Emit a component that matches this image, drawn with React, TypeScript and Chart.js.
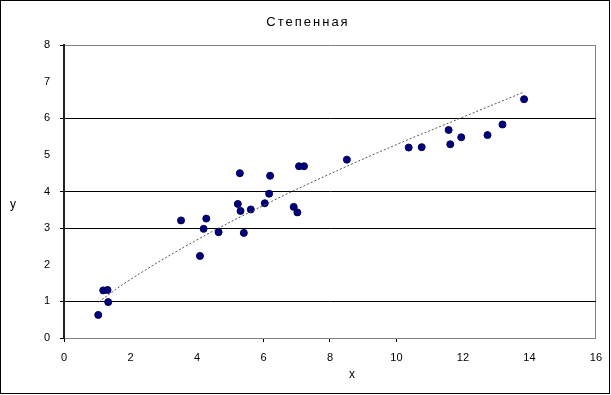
import React, { useEffect, useRef } from "react";
import { Chart, registerables } from "chart.js";

Chart.register(...registerables);

const TITLE = "Степенная";
const X_LABEL = "x";
const Y_LABEL = "y";

const xValues = [1.03, 1.18, 1.31, 1.33, 3.52, 4.09, 4.2, 4.28, 4.65, 5.23, 5.29, 5.31, 5.41, 5.62, 6.04, 6.17, 6.2, 6.91, 7.02, 7.07, 7.22, 8.51, 10.37, 10.76, 11.57, 11.62, 11.95, 12.74, 13.19, 13.84];
const yValues = [0.63, 1.3, 1.31, 0.98, 3.21, 2.24, 2.98, 3.26, 2.89, 3.66, 4.5, 3.47, 2.87, 3.51, 3.68, 3.94, 4.43, 3.58, 3.43, 4.69, 4.69, 4.87, 5.2, 5.21, 5.68, 5.29, 5.48, 5.54, 5.83, 6.52];

const trendX = [1.04, 2, 4, 6, 8, 10, 12, 13.82];
const trendY = [0.98, 1.6, 2.68, 3.62, 4.48, 5.28, 6.03, 6.71];

const yGridValues = [1, 3, 4, 6];
const yTickMarkValues = [0, 1, 3, 4, 6, 8];
const xTickMarkValues = [0, 6, 8, 10];

const FONT = "'Liberation Sans', Arial, sans-serif";

export default function App() {
  const ref = useRef<HTMLCanvasElement | null>(null);

  useEffect(() => {
    document.body.style.margin = "0";
    const canvas = ref.current;
    if (!canvas) return;

    const decor = {
      id: "decor",
      beforeDraw(chart: any) {
        const ctx = chart.ctx;
        ctx.save();
        ctx.fillStyle = "#ffffff";
        ctx.fillRect(0, 0, chart.width, chart.height);
        ctx.restore();
      },
      afterDraw(chart: any) {
        const ctx = chart.ctx;
        ctx.save();
        ctx.strokeStyle = "#000000";
        ctx.lineWidth = 1;
        ctx.strokeRect(0.5, 0.5, 609, 393);
        ctx.fillStyle = "#000000";
        ctx.textAlign = "center";
        ctx.textBaseline = "middle";
        ctx.font = `13px ${FONT}`;
        try { (ctx as any).letterSpacing = "2px"; } catch (e) {}
        ctx.fillText(TITLE, 308, 22);
        try { (ctx as any).letterSpacing = "0px"; } catch (e) {}
        ctx.font = `12px ${FONT}`;
        ctx.fillText(X_LABEL, 352, 375);
        ctx.fillText(Y_LABEL, 13, 205);
        ctx.restore();
      },
    };

    const chart = new Chart(canvas, {
      type: "scatter",
      data: {
        datasets: [
          {
            type: "line",
            data: trendX.map((x, i) => ({ x, y: trendY[i] })),
            borderColor: "#555555",
            borderWidth: 1,
            borderDash: [2, 2],
            pointRadius: 0,
            fill: false,
            tension: 0.4,
            showLine: true,
            order: 0,
          } as any,
          {
            data: xValues.map((x, i) => ({ x, y: yValues[i] })),
            backgroundColor: "#000080",
            borderColor: "#000050",
            borderWidth: 1,
            pointRadius: 3.5,
            order: 1,
          },
        ],
      },
      options: {
        responsive: false,
        animation: false,
        devicePixelRatio: 1,
        layout: { padding: { top: 45, right: 14, left: 0, bottom: 0 } },
        plugins: {
          legend: { display: false },
          title: { display: false },
          tooltip: { enabled: false },
        },
        scales: {
          x: {
            type: "linear",
            min: 0,
            max: 16,
            afterFit(s: any) { s.height = 57; },
            ticks: {
              stepSize: 2,
              color: "#000000",
              font: { family: FONT, size: 11 },
              padding: 9,
            },
            grid: {
              drawOnChartArea: true,
              tickLength: 4,
              color: (c: any) => (c.tick && c.tick.value === 16 ? "#808080" : "rgba(0,0,0,0)"),
              tickColor: (c: any) => (c.tick && xTickMarkValues.includes(c.tick.value) ? "#000000" : "rgba(0,0,0,0)"),
            },
            border: { color: "#808080", width: 1 },
          },
          y: {
            type: "linear",
            min: 0,
            max: 8,
            afterFit(s: any) { s.width = 64; },
            ticks: {
              stepSize: 1,
              color: "#000000",
              font: { family: FONT, size: 11 },
              padding: 10,
            },
            grid: {
              tickLength: 4,
              color: (c: any) => {
                const v = c.tick ? c.tick.value : -1;
                if (yGridValues.includes(v)) return "#000000";
                if (v === 8) return "#808080";
                return "rgba(0,0,0,0)";
              },
              tickColor: (c: any) => (c.tick && yTickMarkValues.includes(c.tick.value) ? "#000000" : "rgba(0,0,0,0)"),
            },
            border: { color: "#222222", width: 2 },
          },
        },
      },
      plugins: [decor],
    } as any);

    return () => chart.destroy();
  }, []);

  return (
    <div style={{ width: 611, height: 395 }}>
      <canvas ref={ref} width={611} height={395} style={{ display: "block", width: 611, height: 395 }} />
    </div>
  );
}
